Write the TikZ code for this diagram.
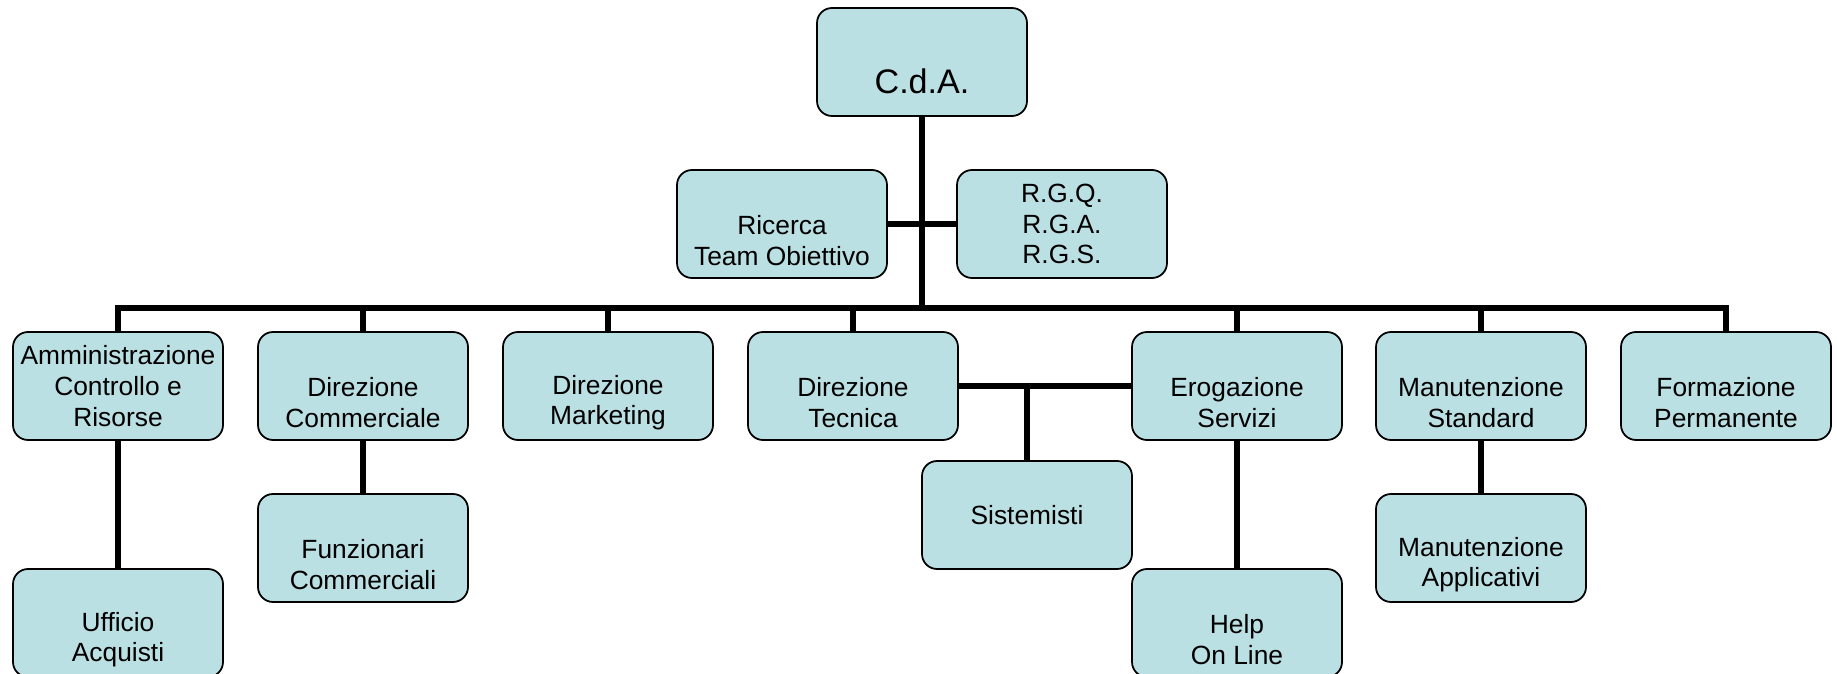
\documentclass[tikz,border=0pt]{standalone}
\usepackage{fontspec}
\setmainfont{Liberation Sans}
\definecolor{boxfill}{RGB}{187,224,227}
\tikzset{
  unit/.style={draw, line width=1pt, rounded corners=0.3cm, fill=boxfill,
    minimum width=4.2cm, minimum height=2.16cm, inner sep=0pt, align=center,
    font=\fontsize{15}{17.5}\selectfont},
  link/.style={line width=3.3pt}
}
\begin{document}
\begin{tikzpicture}
\useasboundingbox (0,0) rectangle (36.74,13.48);
% vertice
\node[unit, font=\fontsize{19.4}{21}\selectfont] (cda) at (18.44,12.24) {\strut\\C.d.A.};
\node[unit] (ric) at (15.64,9.0) {\strut\\Ricerca\\Team Obiettivo};
\node[unit] (rgq) at (21.24,9.0) {R.G.Q.\\R.G.A.\\R.G.S.};
% direzioni
\node[unit] (amm) at (2.36,5.76) {Amministrazione\\Controllo e\\Risorse};
\node[unit] (dc) at (7.26,5.76) {\strut\\Direzione\\Commerciale};
\node[unit] (dm) at (12.16,5.76) {\strut\\Direzione\\Marketing};
\node[unit] (dt) at (17.06,5.76) {\strut\\Direzione\\Tecnica};
\node[unit] (es) at (24.74,5.76) {\strut\\Erogazione\\Servizi};
\node[unit] (ms) at (29.62,5.76) {\strut\\Manutenzione\\Standard};
\node[unit] (fp) at (34.52,5.76) {\strut\\Formazione\\Permanente};
% uffici
\node[unit] (sis) at (20.54,3.18) {Sistemisti};
\node[unit] (fun) at (7.26,2.52) {\strut\\Funzionari\\Commerciali};
\node[unit] (ma) at (29.62,2.52) {\strut\\Manutenzione\\Applicativi};
\node[unit] (uff) at (2.36,1.02) {\strut\\Ufficio\\Acquisti};
\node[unit] (hol) at (24.74,1.02) {\strut\\Help\\On Line};
\coordinate (bus) at (18.44,7.32);
% collegamenti
\draw[link] (cda) -- (bus);
\draw[link] (ric) -- (rgq);
\draw[link] (amm.north) -- (amm.north |- bus) -- (fp.north |- bus) -- (fp.north);
\foreach \n in {dc,dm,dt,es,ms}
  \draw[link] (\n.north) -- (\n.north |- bus);
\draw[link] (dt) -- (es);
\draw[link] (sis) -- (sis |- dt);
\draw[link] (amm) -- (uff);
\draw[link] (dc) -- (fun);
\draw[link] (es) -- (hol);
\draw[link] (ms) -- (ma);
\end{tikzpicture}
\end{document}
